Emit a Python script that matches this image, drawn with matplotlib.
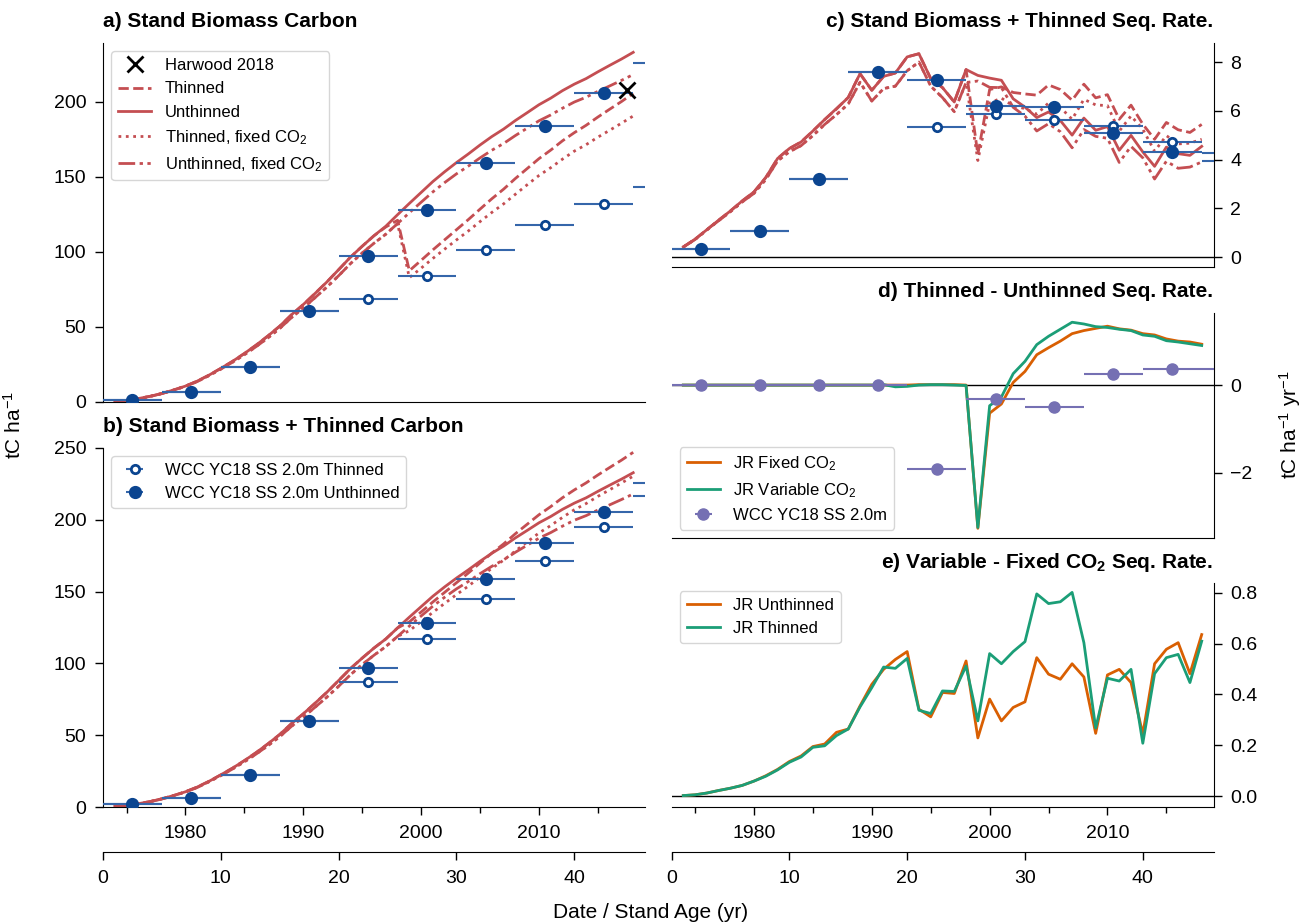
import numpy as np
import matplotlib
matplotlib.use("Agg")
import matplotlib.pyplot as plt

plt.rcParams['font.family'] = ['Liberation Sans', 'DejaVu Sans']
plt.rcParams['mathtext.fontset'] = 'custom'
plt.rcParams['mathtext.rm'] = 'Liberation Sans'
plt.rcParams['mathtext.it'] = 'Liberation Sans:italic'
plt.rcParams['mathtext.bf'] = 'Liberation Sans:bold'

# model years (annual)
years = np.arange(1974, 2019)

# a) stand biomass carbon (tC/ha)
a_unthinned = [0.4, 1.1, 2.3, 3.8, 5.7, 8.0, 10.6, 13.9, 17.9, 22.4,
               27.1, 32.3, 37.9, 44.0, 50.5, 58.1, 64.9, 72.3, 79.9, 88.1,
               96.4, 103.7, 110.7, 117.0, 124.7, 132.2, 139.5, 146.8, 153.3, 159.4,
               165.1, 171.1, 176.7, 181.7, 187.4, 192.6, 197.9, 202.3, 207.3, 211.6,
               215.3, 219.8, 224.1, 228.3, 232.8]
a_unthinned_fix = [0.4, 1.1, 2.2, 3.7, 5.6, 7.9, 10.5, 13.6, 17.6, 21.9,
                   26.5, 31.5, 36.9, 42.7, 49.0, 56.2, 62.6, 69.5, 76.5, 84.1,
                   92.1, 99.2, 105.7, 111.7, 118.8, 126.0, 133.0, 139.9, 146.1, 151.9,
                   157.0, 162.5, 167.6, 172.1, 177.4, 182.3, 187.2, 191.1, 195.6, 199.7,
                   202.9, 206.8, 210.4, 214.1, 218.0]
a_thinned = [0.4, 1.1, 2.3, 3.8, 5.7, 8.0, 10.6, 13.9, 17.9, 22.4,
             27.1, 32.3, 37.9, 44.0, 50.5, 58.1, 64.9, 72.3, 79.9, 88.1,
             96.4, 103.7, 110.7, 116.5, 121.0, 87.4, 94.3, 101.3, 108.0, 114.7,
             121.4, 128.4, 135.3, 141.7, 148.8, 155.4, 162.0, 167.7, 173.9, 179.3,
             184.2, 189.7, 194.9, 200.0, 205.5]
a_thinned_fix = [0.4, 1.1, 2.2, 3.7, 5.6, 7.9, 10.5, 13.6, 17.6, 21.9,
                 26.5, 31.5, 36.9, 42.7, 49.0, 56.2, 62.6, 69.5, 76.5, 84.1,
                 92.1, 99.2, 105.7, 111.7, 118.8, 82.8, 89.1, 95.6, 101.8, 107.9,
                 113.8, 120.1, 126.2, 131.9, 138.3, 144.6, 150.8, 156.0, 161.7, 167.0,
                 171.3, 176.3, 180.9, 185.6, 190.4]

# b) stand biomass + thinned carbon
b_thinned = [0.4, 1.1, 2.3, 3.8, 5.7, 8.0, 10.6, 13.9, 17.9, 22.4,
             27.1, 32.3, 37.9, 44.0, 50.5, 58.1, 64.9, 72.3, 79.9, 88.1,
             96.4, 103.7, 110.7, 117.0, 124.7, 128.9, 135.8, 142.8, 149.5, 156.2,
             162.9, 169.9, 176.8, 183.2, 190.3, 196.9, 203.5, 209.2, 215.4, 220.8,
             225.7, 231.2, 236.4, 241.5, 247.0]
b_thinned_fix = [0.4, 1.1, 2.2, 3.7, 5.6, 7.9, 10.5, 13.6, 17.6, 21.9,
                 26.5, 31.5, 36.9, 42.7, 49.0, 56.2, 62.6, 69.5, 76.5, 84.1,
                 92.1, 99.2, 105.7, 111.7, 118.8, 122.8, 129.1, 135.6, 141.8, 147.9,
                 153.8, 160.1, 166.2, 171.9, 178.3, 184.6, 190.8, 196.0, 201.7, 207.0,
                 211.3, 216.3, 220.9, 225.6, 230.4]

# c) sequestration rates (tC/ha/yr)
c_unthinned = [0.41, 0.73, 1.12, 1.51, 1.89, 2.30, 2.67, 3.26, 4.04, 4.45,
               4.72, 5.17, 5.64, 6.09, 6.54, 7.52, 6.84, 7.41, 7.55, 8.21,
               8.34, 7.32, 6.95, 6.36, 7.69, 7.45, 7.34, 7.25, 6.49, 6.15,
               5.72, 5.95, 5.60, 5.00, 5.70, 5.20, 5.35, 4.38, 4.99, 4.31,
               3.72, 4.51, 4.24, 4.17, 4.54]
c_unthinned_fix = [0.41, 0.72, 1.11, 1.49, 1.86, 2.26, 2.61, 3.18, 3.94, 4.32,
                   4.57, 4.98, 5.44, 5.84, 6.28, 7.17, 6.40, 6.91, 7.01, 7.64,
                   8.00, 7.01, 6.54, 5.96, 7.16, 7.22, 6.96, 6.95, 6.14, 5.78,
                   5.17, 5.47, 5.14, 4.48, 5.23, 4.95, 4.87, 3.88, 4.54, 4.07,
                   3.20, 3.93, 3.64, 3.69, 3.90]
c_thinned = [0.41, 0.73, 1.12, 1.51, 1.89, 2.30, 2.67, 3.26, 4.04, 4.45,
             4.72, 5.17, 5.64, 6.07, 6.55, 7.52, 6.84, 7.41, 7.55, 8.21,
             8.34, 7.32, 6.95, 6.36, 7.69, 4.21, 6.87, 6.98, 6.75, 6.69,
             6.64, 7.06, 6.87, 6.43, 7.09, 6.53, 6.66, 5.65, 6.23, 5.45,
             4.83, 5.52, 5.22, 5.11, 5.44]
c_thinned_fix = [0.41, 0.72, 1.11, 1.49, 1.86, 2.26, 2.61, 3.18, 3.94, 4.32,
                 4.57, 4.98, 5.44, 5.84, 6.28, 7.17, 6.40, 6.91, 7.01, 7.64,
                 8.00, 7.01, 6.54, 5.96, 7.16, 3.96, 6.32, 6.52, 6.20, 6.09,
                 5.86, 6.32, 6.14, 5.65, 6.47, 6.24, 6.21, 5.16, 5.79, 5.24,
                 4.34, 4.98, 4.64, 4.67, 4.83]

# d) thinned - unthinned rate
d_fixed = [0, 0, 0, 0, 0, 0, 0, 0, 0, 0,
           0, 0, 0, 0, 0, 0, 0, 0, 0.0, 0.0,
           0.01, 0.01, 0.01, 0.01, 0.0, -3.26, -0.64, -0.43, 0.06, 0.31,
           0.69, 0.85, 1.00, 1.17, 1.24, 1.29, 1.34, 1.28, 1.25, 1.17,
           1.14, 1.05, 1.00, 0.98, 0.93]
d_variable = [0, 0, 0, 0, 0, 0, 0, 0, 0, 0,
              0, 0, 0, 0, 0, 0, 0.0, 0.01, -0.04, -0.03,
              0.0, 0.01, 0.01, 0.0, -0.01, -3.24, -0.47, -0.27, 0.26, 0.54,
              0.92, 1.11, 1.27, 1.43, 1.39, 1.33, 1.31, 1.27, 1.24, 1.14,
              1.11, 1.01, 0.98, 0.94, 0.90]

# e) variable - fixed CO2 rate
e_unthinned = [0.002, 0.005, 0.012, 0.022, 0.031, 0.042, 0.059, 0.080, 0.105, 0.136,
               0.158, 0.195, 0.205, 0.251, 0.264, 0.355, 0.440, 0.499, 0.538, 0.569,
               0.342, 0.312, 0.408, 0.404, 0.532, 0.229, 0.382, 0.296, 0.349, 0.371,
               0.545, 0.480, 0.460, 0.521, 0.469, 0.247, 0.477, 0.499, 0.447, 0.244,
               0.521, 0.578, 0.604, 0.482, 0.636]
e_thinned = [0.002, 0.005, 0.012, 0.022, 0.031, 0.042, 0.059, 0.078, 0.103, 0.133,
             0.154, 0.192, 0.198, 0.238, 0.264, 0.351, 0.427, 0.508, 0.503, 0.542,
             0.338, 0.325, 0.414, 0.412, 0.512, 0.296, 0.561, 0.521, 0.569, 0.608,
             0.796, 0.758, 0.765, 0.802, 0.604, 0.268, 0.464, 0.453, 0.499, 0.208,
             0.482, 0.545, 0.558, 0.447, 0.610]

# WCC yield table (5 year classes, centred)
wcc_years = [1975.5, 1980.5, 1985.5, 1990.5, 1995.5, 2000.5, 2005.5, 2010.5, 2015.5, 2020.5]
wcc_a_unthinned = [1.5, 6.5, 23.0, 60.5, 97.0, 128.0, 159.0, 184.0, 205.5, 225.5]
wcc_a_thinned = [1.5, 6.5, 23.0, 60.5, 68.5, 84.0, 101.5, 118.0, 131.5, 143.0]
wcc_b_unthinned = [1.9, 6.5, 22.5, 60.0, 97.0, 128.0, 158.5, 184.0, 205.5, 225.5]
wcc_b_thinned = [1.9, 6.5, 22.5, 60.0, 87.0, 117.0, 145.0, 171.5, 195.0, 216.5]
wcc_c_unthinned = [0.34, 1.05, 3.20, 7.58, 7.25, 6.21, 6.15, 5.09, 4.31, 3.94]
wcc_c_thinned = [0.34, 1.05, 3.20, 7.58, 5.33, 5.88, 5.64, 5.36, 4.72, 4.28]
wcc_d = [0.0, 0.0, 0.0, 0.0, -1.92, -0.32, -0.50, 0.26, 0.36, 0.36]

harwood_year = [2017.5]
harwood_val = [208.0]

red = '#c44e52'
blue = '#0b4590'
eblue = '#3566aa'
orange = '#d95f02'
green = '#1b9e77'
purple = '#7570b3'
dashdotdot = (0, (6, 1.6, 1.2, 1.6, 1.2, 1.6))

fig = plt.figure(figsize=(13.02, 9.23), dpi=100)
W, H = 1302.0, 923.0

def box(x0, x1, y0, y1):
    return [x0 / W, 1 - y1 / H, (x1 - x0) / W, (y1 - y0) / H]

ax_a = fig.add_axes(box(103, 645, 43, 402))
ax_b = fig.add_axes(box(103, 645, 448, 807))
ax_c = fig.add_axes(box(671.5, 1213.5, 43, 267))
ax_d = fig.add_axes(box(671.5, 1213.5, 313, 538))
ax_e = fig.add_axes(box(671.5, 1213.5, 583, 807))

def wcc(ax, y, filled, label=None):
    ax.errorbar(wcc_years, y, xerr=2.5, fmt='o', ms=7.5 if filled else 6,
                mfc=blue if filled else 'white', mec=blue, mew=2,
                ecolor=eblue, elinewidth=1.5, capsize=0, label=label, zorder=3)

def model_lines(ax, unth, th, unth_fix, th_fix):
    ax.plot(years, th, color=red, lw=2, ls='--', label='Thinned')
    ax.plot(years, unth, color=red, lw=2, ls='-', label='Unthinned')
    ax.plot(years, th_fix, color=red, lw=2, ls=':', label='Thinned, fixed CO$_2$')
    ax.plot(years, unth_fix, color=red, lw=2, ls=dashdotdot, label='Unthinned, fixed CO$_2$')

# panel a
ax_a.plot(harwood_year, harwood_val, 'x', color='k', ms=11, mew=2, label='Harwood 2018', zorder=4)
model_lines(ax_a, a_unthinned, a_thinned, a_unthinned_fix, a_thinned_fix)
wcc(ax_a, wcc_a_thinned, False)
wcc(ax_a, wcc_a_unthinned, True)
ax_a.set_ylim(0, 239)
ax_a.set_yticks([0, 50, 100, 150, 200])
ax_a.legend(loc='upper left', fontsize=12, borderaxespad=0.5)

# panel b
model_lines(ax_b, a_unthinned, b_thinned, a_unthinned_fix, b_thinned_fix)
wcc(ax_b, wcc_b_thinned, False, 'WCC YC18 SS 2.0m Thinned')
wcc(ax_b, wcc_b_unthinned, True, 'WCC YC18 SS 2.0m Unthinned')
ax_b.set_ylim(0, 250)
ax_b.set_yticks([0, 50, 100, 150, 200, 250])
hb, lb = ax_b.get_legend_handles_labels()
ax_b.legend(hb[-2:], lb[-2:], loc='upper left', fontsize=12, borderaxespad=0.5)

# panel c
ax_c.axhline(0, color='k', lw=1)
model_lines(ax_c, c_unthinned, c_thinned, c_unthinned_fix, c_thinned_fix)
wcc(ax_c, wcc_c_thinned, False)
wcc(ax_c, wcc_c_unthinned, True)
ax_c.set_ylim(-0.41, 8.78)
ax_c.set_yticks([0, 2, 4, 6, 8])

# panel d
ax_d.axhline(0, color='k', lw=1)
ax_d.plot(years, d_fixed, color=orange, lw=2, label='JR Fixed CO$_2$')
ax_d.plot(years, d_variable, color=green, lw=2, label='JR Variable CO$_2$')
ax_d.errorbar(wcc_years, wcc_d, xerr=2.5, fmt='o', ms=8, color=purple,
              elinewidth=1.5, capsize=0, label='WCC YC18 SS 2.0m', zorder=3)
ax_d.set_ylim(-3.48, 1.64)
ax_d.set_yticks([-2, 0])
ax_d.legend(loc='lower left', fontsize=12, borderaxespad=0.5)

# panel e
ax_e.axhline(0, color='k', lw=1)
ax_e.plot(years, e_unthinned, color=orange, lw=2, label='JR Unthinned')
ax_e.plot(years, e_thinned, color=green, lw=2, label='JR Thinned')
ax_e.set_ylim(-0.043, 0.839)
ax_e.set_yticks([0.0, 0.2, 0.4, 0.6, 0.8])
ax_e.legend(loc='upper left', fontsize=12, borderaxespad=0.5)

for ax in [ax_a, ax_b, ax_c, ax_d, ax_e]:
    ax.set_xlim(1973, 2019)
    ax.spines['top'].set_visible(False)
    ax.tick_params(labelsize=14, length=6, width=1)
    ax.tick_params(axis='y', pad=6)
    ax.set_xticks([1980, 1990, 2000, 2010])
    ax.set_xticks([1975, 1985, 1995, 2005, 2015], minor=True)
    ax.tick_params(axis='x', which='minor', length=4, width=1)
    ax.tick_params(axis='x', which='major', pad=7)

for ax in [ax_a, ax_b]:
    ax.spines['right'].set_visible(False)
for ax in [ax_c, ax_d, ax_e]:
    ax.spines['left'].set_visible(False)
    ax.yaxis.tick_right()
for ax in [ax_a, ax_c, ax_d]:
    ax.tick_params(axis='x', which='both', bottom=False, labelbottom=False)

def to_age(x):
    return x - 1973

def to_year(x):
    return x + 1973

for ax, loc in [(ax_b, -45 / 359.0), (ax_e, -45 / 224.0)]:
    sec = ax.secondary_xaxis(loc, functions=(to_age, to_year))
    sec.set_xticks([0, 10, 20, 30, 40])
    sec.tick_params(labelsize=14, length=6, width=1, pad=7)

# titles
tkw = dict(fontsize=15, fontweight='bold', va='baseline')
fig.text(103 / W, 1 - 27 / H, 'a) Stand Biomass Carbon', ha='left', **tkw)
fig.text(103 / W, 1 - 432 / H, 'b) Stand Biomass + Thinned Carbon', ha='left', **tkw)
fig.text(1213 / W, 1 - 27 / H, 'c) Stand Biomass + Thinned Seq. Rate.', ha='right', **tkw)
fig.text(1213 / W, 1 - 297 / H, 'd) Thinned - Unthinned Seq. Rate.', ha='right', **tkw)
fig.text(1213 / W, 1 - 568 / H, r'e) Variable - Fixed CO$_\mathbf{2}$ Seq. Rate.', ha='right', **tkw)

fig.text(14 / W, 1 - 425 / H, 'tC ha$^{-1}$', rotation=90, ha='center', va='center', fontsize=15)
fig.text(1290 / W, 1 - 425 / H, 'tC ha$^{-1}$ yr$^{-1}$', rotation=90, ha='center', va='center', fontsize=15)
fig.text(651 / W, 1 - 912 / H, 'Date / Stand Age (yr)', ha='center', va='center', fontsize=15)

fig.savefig('out.png', dpi=100)
